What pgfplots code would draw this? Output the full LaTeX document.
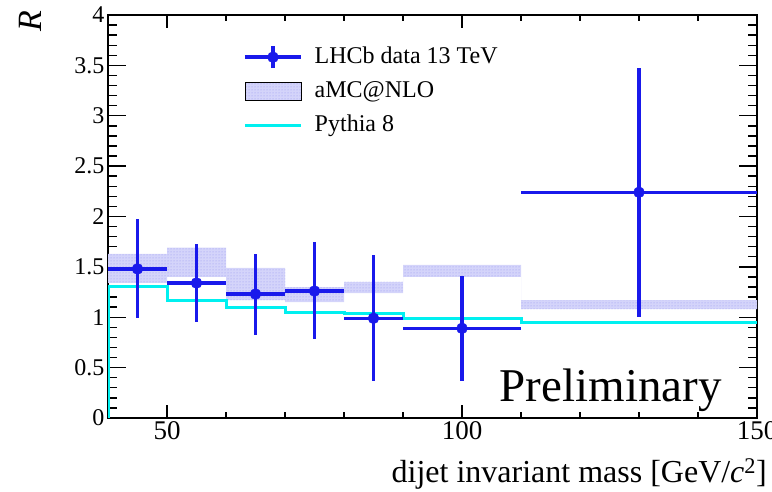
\documentclass[border=0pt]{standalone}
\usepackage{fontspec}
\setmainfont{Liberation Serif}
\usepackage{pgfplots}
\pgfplotsset{compat=1.18}
\usepgfplotslibrary{fillbetween}
\usetikzlibrary{patterns}

\definecolor{lhcbblue}{RGB}{25,25,235}
\definecolor{pythcyan}{RGB}{0,240,240}
\definecolor{bandcol}{RGB}{212,212,250}
\definecolor{banddot}{RGB}{150,150,240}

\begin{document}
\begin{tikzpicture}
\begin{axis}[
  at={(108pt,74pt)}, anchor=south west,
  scale only axis, width=649pt, height=403pt,
  xmin=40, xmax=150, ymin=0, ymax=4,
  xtick={50,100,150}, minor xtick={60,70,80,90,110,120,130,140},
  ytick={0,0.5,1,1.5,2,2.5,3,3.5,4}, minor y tick num=4,
  tick align=inside, major tick length=18pt, minor tick length=9pt,
  xtick style={/pgfplots/major tick length=13pt, /pgfplots/minor tick length=6pt},
  axis line style={line width=1.4pt},
  every tick/.style={black,line width=1.4pt},
  /pgf/number format/assume math mode=true,
  xticklabel style={font=\fontsize{27}{30}\selectfont},
  yticklabel style={font=\fontsize{24}{28}\selectfont},
  xlabel={dijet invariant mass [GeV/\textit{c}\textsuperscript{2}]},
  xlabel style={at={(rel axis cs:1.0154,-0.161)}, anchor=base east, inner sep=0pt,
    font=\fontsize{32}{36}\selectfont},
  ylabel={\textit{R}},
  ylabel style={at={(rel axis cs:-0.102,1.012)}, anchor=south east, inner sep=0pt,
    font=\fontsize{34}{38}\selectfont},
  legend style={at={(rel axis cs:0.205,0.933)}, anchor=north west, draw=none, fill=none,
    row sep=8pt, inner sep=2pt,
    nodes={font=\fontsize{24}{27}\selectfont, inner sep=2pt, text height=17pt, text depth=5pt},
    /tikz/every odd column/.append style={column sep=10pt}},
  legend cell align=left,
]
\addlegendimage{legend image code/.code={
  \draw[lhcbblue,line width=3.5pt] (0pt,0pt) -- (56pt,0pt);
  \draw[lhcbblue,line width=3.5pt] (28pt,-11pt) -- (28pt,11pt);
  \fill[lhcbblue] (28pt,0pt) circle (5.5pt);}}
\addlegendentry{LHCb data 13 TeV}
\addlegendimage{legend image code/.code={
  \fill[bandcol] (0pt,-9pt) rectangle (56pt,9pt);
  \fill[pattern=dots, pattern color=banddot] (0pt,-9pt) rectangle (56pt,9pt);}}
\addlegendentry{aMC@NLO}
\addlegendimage{legend image code/.code={
  \draw[pythcyan,line width=3pt] (0pt,0pt) -- (56pt,0pt);}}
\addlegendentry{Pythia 8}

% aMC@NLO band
\addplot[name path=up, draw=none, const plot, forget plot] coordinates {
(40,1.63) (50,1.69) (60,1.49) (70,1.30) (80,1.35) (90,1.52) (110,1.17) (150,1.17)};
\addplot[name path=lo, draw=none, const plot, forget plot] coordinates {
(40,1.34) (50,1.40) (60,1.17) (70,1.15) (80,1.24) (90,1.40) (110,1.08) (150,1.08)};
\addplot[fill=bandcol, draw=none, forget plot] fill between[of=up and lo];
\addplot[pattern=dots, pattern color=banddot, draw=none, forget plot] fill between[of=up and lo];

% Pythia 8
\addplot[pythcyan, line width=3pt, const plot, forget plot] coordinates {
(40,0) (40,1.31) (50,1.17) (60,1.10) (70,1.05) (80,1.04) (90,0.99) (110,0.95) (150,0.95)};

% data
\addplot[lhcbblue, only marks, mark=*, mark size=5.5pt, forget plot,
  error bars/.cd, x dir=both, x explicit, y dir=both, y explicit,
  error mark=none, error bar style={line width=3.5pt, lhcbblue}]
  table[x=x, y=y, x error=ex, y error plus=eyp, y error minus=eym] {
x y ex eyp eym
45 1.48 5 0.50 0.49
55 1.34 5 0.39 0.39
65 1.23 5 0.40 0.41
75 1.26 5 0.49 0.48
85 0.99 5 0.63 0.62
100 0.89 10 0.52 0.52
130 2.24 20 1.23 1.24
};

\node[anchor=base east, inner sep=0pt, font=\fontsize{47}{50}\selectfont]
  at (rel axis cs:0.946,0.0397) {Preliminary};
\end{axis}
\pgfresetboundingbox
\path[use as bounding box] (0,0) rectangle (772pt,492pt);
\end{tikzpicture}
\end{document}
